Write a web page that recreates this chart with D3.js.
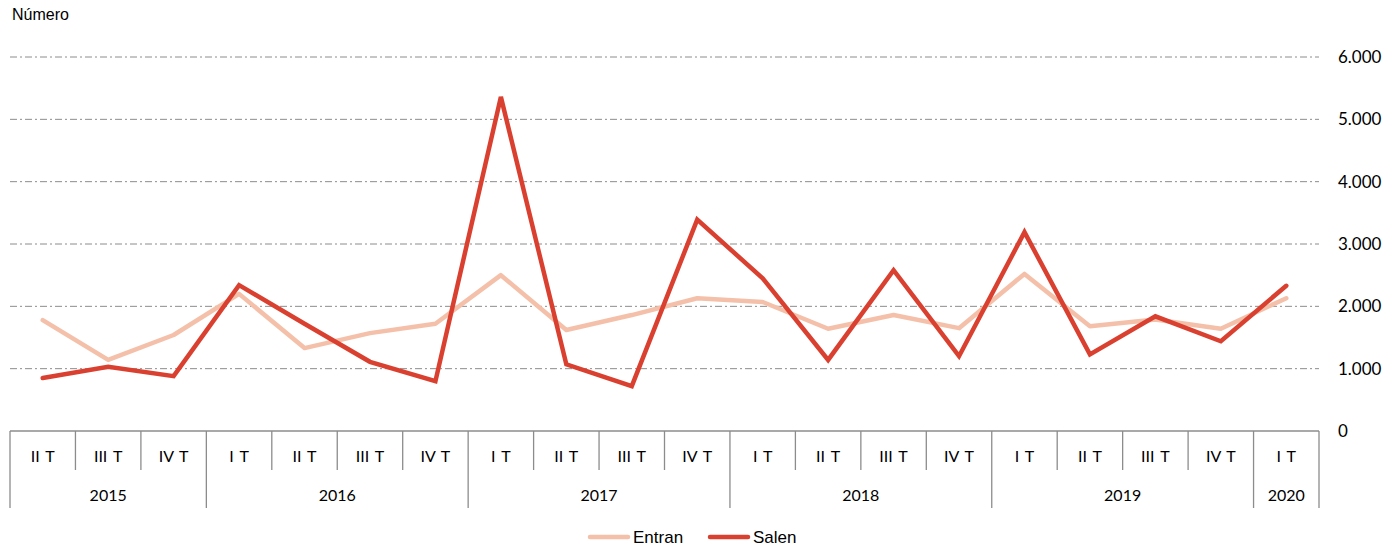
<!DOCTYPE html>
<html>
<head>
<meta charset="utf-8">
<script src="https://cdn.jsdelivr.net/npm/d3@7"></script>
<style>
  body { margin: 0; background: #fff; }
  svg { display: block; }
</style>
</head>
<body>
<svg id="chart" width="1394" height="546"></svg>
<script>
// --- Data ---
const QUARTERS = ["II T","III T","IV T","I T","II T","III T","IV T","I T","II T","III T","IV T",
                  "I T","II T","III T","IV T","I T","II T","III T","IV T","I T"];
const YEARS = [
  { label: "2015", n: 3 },
  { label: "2016", n: 4 },
  { label: "2017", n: 4 },
  { label: "2018", n: 4 },
  { label: "2019", n: 4 },
  { label: "2020", n: 1 }
];
const ENTRAN = [1780, 1140, 1540, 2200, 1330, 1570, 1720, 2500, 1620, 1860, 2130,
                2070, 1640, 1860, 1650, 2520, 1680, 1790, 1640, 2130];
const SALEN  = [850, 1030, 880, 2340, 1720, 1110, 800, 5360, 1070, 720, 3390,
                2450, 1140, 2580, 1200, 3190, 1230, 1840, 1440, 2330];
const Y_TICKS = [0, 1000, 2000, 3000, 4000, 5000, 6000];

const COL_ENTRAN = "#f4c0a9";
const COL_SALEN = "#da402f";
const AXIS_FONT = "Lato, 'Open Sans', sans-serif";

const svg = d3.select("#chart");
const left = 10, right = 1319, y0 = 431, yTop = 57;

const x = d3.scaleBand().domain(d3.range(QUARTERS.length)).range([left, right]).padding(0);
const y = d3.scaleLinear().domain([0, 6000]).range([y0, yTop]);

// --- Grid ---
svg.append("g").selectAll("line")
  .data(Y_TICKS.filter(d => d > 0)).join("line")
  .attr("x1", left).attr("x2", right)
  .attr("y1", d => y(d)).attr("y2", d => y(d))
  .attr("stroke", "#8c8c8c").attr("stroke-width", 1)
  .attr("stroke-dasharray", "7,3,2,3");

// Right axis labels
svg.append("g").selectAll("text")
  .data(Y_TICKS).join("text")
  .attr("x", 1338).attr("y", d => y(d))
  .attr("dy", "0.35em")
  .attr("font-family", AXIS_FONT).attr("font-size", "17px").attr("fill", "#000")
  .text(d => d3.format(",")(d).replace(/,/g, "."));

// --- Category axis ---
const axisG = svg.append("g").attr("stroke", "#8c8c8c").attr("stroke-width", 1.3);
axisG.append("line").attr("x1", left).attr("x2", right).attr("y1", y0).attr("y2", y0);

// year boundaries
let acc = 0;
const yearBounds = [0];
YEARS.forEach(yr => { acc += yr.n; yearBounds.push(acc); });

d3.range(QUARTERS.length + 1).forEach(i => {
  const xx = i < QUARTERS.length ? x(i) : right;
  const isYear = yearBounds.includes(i);
  axisG.append("line")
    .attr("x1", xx).attr("x2", xx)
    .attr("y1", y0).attr("y2", isYear ? 508 : 470);
});

svg.append("g").selectAll("text")
  .data(QUARTERS).join("text")
  .attr("x", (d, i) => x(i) + x.bandwidth() / 2).attr("y", 462)
  .attr("text-anchor", "middle")
  .attr("font-family", AXIS_FONT).attr("font-size", "16px").attr("fill", "#000")
  .attr("word-spacing", "2px")
  .text(d => d);

svg.append("g").selectAll("text")
  .data(YEARS).join("text")
  .attr("x", (d, i) => {
    const a = x(yearBounds[i]);
    const b = yearBounds[i + 1] < QUARTERS.length ? x(yearBounds[i + 1]) : right;
    return (a + b) / 2;
  })
  .attr("y", 501)
  .attr("text-anchor", "middle")
  .attr("font-family", AXIS_FONT).attr("font-size", "16px").attr("fill", "#000")
  .text(d => d.label);

// --- Lines ---
const line = d3.line()
  .x((d, i) => x(i) + x.bandwidth() / 2)
  .y(d => y(d));

svg.append("path").datum(ENTRAN)
  .attr("d", line).attr("fill", "none")
  .attr("stroke", COL_ENTRAN).attr("stroke-width", 4.5)
  .attr("stroke-linejoin", "round").attr("stroke-linecap", "round");

svg.append("path").datum(SALEN)
  .attr("d", line).attr("fill", "none")
  .attr("stroke", COL_SALEN).attr("stroke-width", 4.5)
  .attr("stroke-linejoin", "miter").attr("stroke-linecap", "round");

// --- Y unit label ---
svg.append("text")
  .attr("x", 12).attr("y", 20)
  .attr("font-family", "'Liberation Sans', Arial, sans-serif")
  .attr("font-size", "16px").attr("fill", "#000")
  .text("Número");

// --- Legend ---
const legend = [
  { label: "Entran", color: COL_ENTRAN, x: 590 },
  { label: "Salen", color: COL_SALEN, x: 710 }
];
const lg = svg.append("g").selectAll("g").data(legend).join("g")
  .attr("transform", d => `translate(${d.x}, 537)`);
lg.append("line").attr("x1", 0).attr("x2", 38).attr("y1", 0).attr("y2", 0)
  .attr("stroke", d => d.color).attr("stroke-width", 4.5).attr("stroke-linecap", "round");
lg.append("text").attr("x", 43).attr("dy", "0.35em")
  .attr("font-family", "'Liberation Sans', Arial, sans-serif")
  .attr("font-size", "17px").attr("fill", "#000")
  .text(d => d.label);
</script>
</body>
</html>
